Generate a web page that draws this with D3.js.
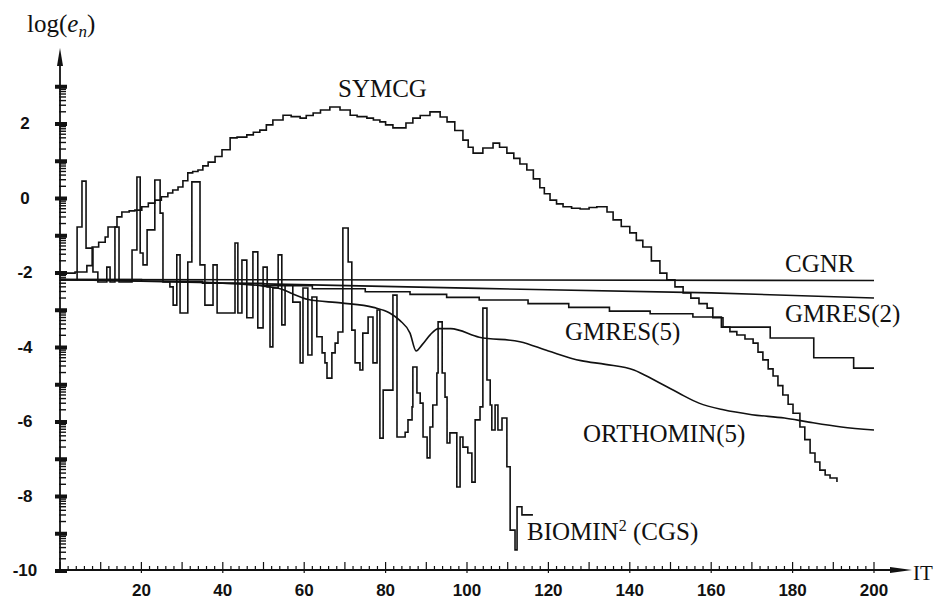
<!DOCTYPE html>
<html>
<head>
<meta charset="utf-8">
<script src="https://cdn.jsdelivr.net/npm/d3@7/dist/d3.min.js"></script>
<style>
body { margin: 0; background: white; }
.kreska { fill: none; stroke: #111; stroke-width: 1.6; }
.os { stroke: #111; stroke-width: 1.8; }
.etykieta { font-family: "Liberation Serif", "DejaVu Serif", serif; font-size: 25px; fill: #111; }
.liczby { font-family: "Liberation Sans", Arial, sans-serif; font-weight: bold; font-size: 17px; fill: #111; }
</style>
</head>
<body>
<div id="rysZbieznosc"></div>
<script>
// iteracje (IT) i log(e_n)
var cgnr = [[0, -2.2], [200, -2.23]];

var gmres2 = [[0, -2.2], [50, -2.32], [103, -2.44], [160, -2.56], [200, -2.7]];

var gmres5 = [[0, -2.2], [20, -2.25], [35, -2.3], [50, -2.37], [62, -2.45], [75, -2.53], [86, -2.6],
  [95, -2.68], [103, -2.75], [115, -2.85], [125, -2.95], [135, -3.05], [145, -3.12], [155.5, -3.21],
  [162.5, -3.48], [174.5, -3.77], [185.2, -4.3], [195, -4.58], [200, -4.58]];

var orthomin5 = [[0, -2.21], [20, -2.24], [40, -2.3], [50, -2.38], [55, -2.48], [57, -2.58], [61, -2.74],
  [69, -2.83], [77, -2.95], [81, -3.1], [83.5, -3.3], [86, -3.64], [87.5, -4.12], [89, -3.95], [91, -3.68],
  [93, -3.52], [96, -3.52], [103, -3.75], [113, -3.87], [120, -4.12], [128, -4.38], [134, -4.48],
  [141, -4.63], [146, -4.9], [152, -5.25], [157, -5.52], [163, -5.7], [170, -5.83], [178, -5.92],
  [184, -6.03], [192, -6.16], [200, -6.24]];

var symcg = [[0, -2.03], [3.7, -2.0], [6.6, -1.83], [7.9, -1.33], [9.5, -1.2], [11.1, -1.06], [11.8, -0.79],
  [14, -0.52], [15.2, -0.39], [17, -0.36], [18.4, -0.34], [20.1, -0.25], [21.7, -0.15], [23.3, -0.07],
  [24.9, 0.02], [26.5, 0.12], [27.7, 0.2], [29, 0.28], [30.2, 0.45], [31.4, 0.66], [32.6, 0.7],
  [33.9, 0.74], [35.1, 0.85], [36.4, 0.95], [38.1, 1.1], [39.8, 1.28], [41.8, 1.6], [43.5, 1.62],
  [45.9, 1.68], [47.5, 1.75], [49.1, 1.81], [50.7, 1.95], [52.3, 2.08], [54.8, 2.21], [56.8, 2.17],
  [59, 2.13], [60.5, 2.2], [62.2, 2.27], [64, 2.35], [66.3, 2.43], [68.8, 2.35], [71.3, 2.21], [73, 2.17],
  [75.4, 2.13], [77, 2.08], [78.6, 2.03], [80, 1.95], [81.8, 1.87], [83.5, 1.87], [85, 2.0], [86.7, 2.13],
  [88.5, 2.2], [90.9, 2.3], [93.4, 2.16], [95.1, 2.03], [97, 1.8], [99, 1.54], [100.3, 1.35], [101.5, 1.19],
  [103.9, 1.33], [106.4, 1.46], [108, 1.35], [109.8, 1.19], [111.5, 1.05], [113, 0.9], [114.7, 0.74],
  [116.3, 0.5], [117.9, 0.26], [119, 0.1], [120.4, -0.07], [122, -0.17], [123.6, -0.25], [125.7, -0.29],
  [127.8, -0.31], [130, -0.27], [131.9, -0.25], [134.4, -0.39], [135.9, -0.6], [137.9, -0.78], [140, -0.95],
  [141.6, -1.15], [143.2, -1.33], [145.3, -1.7], [147.4, -2.03], [149.1, -2.21], [151.1, -2.4],
  [153.1, -2.56], [155, -2.7], [157, -2.85], [159, -2.97], [160.4, -3.23], [162.9, -3.48], [164.6, -3.6],
  [166.3, -3.69], [168.3, -3.8], [170.3, -3.91], [171.5, -4.15], [172.7, -4.36], [174, -4.6], [175.2, -4.79],
  [176.4, -5.05], [177.6, -5.3], [178.9, -5.55], [180.1, -5.79], [181.8, -6.16], [183, -6.5], [184.3, -6.86],
  [185.5, -7.1], [186.7, -7.32], [188, -7.45], [189.2, -7.53], [190.9, -7.64]];

var biomin = [[0, -2.21], [4.2, -0.79], [5.4, 0.44], [6.4, -1.36], [8.1, -2.0], [9.3, -2.27], [11.5, -1.87],
  [12.3, -2.27], [13.5, -0.79], [14.5, -2.27], [17.7, -1.41], [18.9, 0.55], [19.7, -1.49], [20.4, -1.81],
  [21.4, -0.87], [23.3, 0.47], [24.6, -0.42], [25.3, -2.27], [27, -2.4], [27.8, -2.89], [28.7, -1.54],
  [29.5, -3.1], [31.4, -1.73], [32.4, 0.42], [34.4, -1.81], [35.6, -2.89], [37.6, -1.81], [38.6, -3.1],
  [43, -1.22], [43.7, -3.1], [44.7, -1.68], [45.9, -3.23], [47.4, -1.46], [48.6, -3.5], [49.9, -1.87],
  [50.9, -2.4], [51.6, -4.01], [52.3, -2.43], [53.6, -1.54], [54.5, -3.42], [55.3, -2.35], [57.2, -2.81],
  [59, -4.44], [59.7, -2.43], [60.9, -4.23], [61.9, -2.67], [63.1, -3.74], [64.4, -4.17], [65.1, -4.44],
  [65.6, -4.85], [66.8, -4.17], [67.6, -3.91], [68.3, -3.61], [69.5, -0.82], [70.8, -1.73], [71.7, -3.56],
  [72.5, -4.44], [73.7, -4.63], [74.4, -3.64], [75.7, -3.21], [76.9, -4.44], [77.9, -3.02], [78.6, -6.46],
  [79.4, -5.17], [81.8, -2.62], [82.8, -6.43], [84.8, -6.3], [85.5, -5.97], [86.5, -5.62], [86.7, -4.55],
  [87.7, -5.25], [88.5, -5.52], [89.2, -6.43], [90.2, -6.99], [90.9, -6.16], [91.6, -5.57], [92.6, -4.71],
  [92.9, -3.34], [93.9, -4.71], [94.6, -5.36], [95.1, -6.59], [95.8, -6.32], [97.5, -7.77], [98.3, -6.43],
  [99, -6.7], [100.2, -6.86], [101.2, -7.64], [102, -5.97], [103.2, -5.62], [103.9, -2.97], [104.9, -4.9],
  [105.7, -5.57], [106.1, -6.24], [106.9, -5.57], [107.6, -6.24], [108.6, -5.92], [109.8, -7.23],
  [110.6, -8.93], [111.8, -9.46], [112.3, -8.3], [113.5, -8.52], [116.2, -8.52]];

var xTickLabels = [20, 40, 60, 80, 100, 120, 140, 160, 180, 200];
var yTickLabels = [2, 0, -2, -4, -6, -8, -10];

var svg = d3.select("#rysZbieznosc")
  .append("svg")
  .attr("width", 945)
  .attr("height", 601)
  .style("background", "white");

var xscale = d3.scaleLinear().domain([0, 200]).range([60, 874]);
var yscale = d3.scaleLinear().domain([-10, 2]).range([570, 123]);

// os X z podzialka co 2
var xAxis = svg.append("g");
xAxis.append("line").attr("class", "os")
  .attr("x1", 55).attr("x2", 895).attr("y1", yscale(-10)).attr("y2", yscale(-10));
xAxis.append("path")
  .attr("d", "M912," + yscale(-10) + " L890," + (yscale(-10) - 3) + " L890," + (yscale(-10) + 3) + " Z")
  .attr("fill", "#111");
xAxis.selectAll("line.tick")
  .data(d3.range(0, 201, 2))
  .enter().append("line")
  .attr("class", "tick")
  .attr("stroke", "#111")
  .attr("stroke-width", 1.2)
  .attr("x1", d => xscale(d)).attr("x2", d => xscale(d))
  .attr("y1", d => yscale(-10) + (d % 20 == 0 && d > 0 ? 3 : 0))
  .attr("y2", d => yscale(-10) - (d % 10 == 0 ? 8 : 4));
xAxis.selectAll("text")
  .data(xTickLabels)
  .enter().append("text")
  .attr("class", "liczby")
  .attr("x", d => xscale(d))
  .attr("y", 596)
  .attr("text-anchor", "middle")
  .text(d => d);

// os Y - podzialka logarytmiczna w kazdej dekadzie
var yAxis = svg.append("g");
yAxis.append("line").attr("class", "os")
  .attr("x1", 60).attr("x2", 60).attr("y1", yscale(-10) + 1).attr("y2", 64);
yAxis.append("path")
  .attr("d", "M60,48 L57,66 L63,66 Z")
  .attr("fill", "#111");

var yMinor = [];
d3.range(-10, 3).forEach(function (n) {
  d3.range(2, 10).forEach(function (k) { yMinor.push(n + Math.log10(k)); });
});
yAxis.selectAll("line.minor")
  .data(yMinor)
  .enter().append("line")
  .attr("class", "minor")
  .attr("stroke", "#111")
  .attr("stroke-width", 1.4)
  .attr("x1", 59).attr("x2", 66)
  .attr("y1", d => yscale(d)).attr("y2", d => yscale(d));
yAxis.selectAll("line.major")
  .data(d3.range(-10, 4))
  .enter().append("line")
  .attr("class", "major")
  .attr("stroke", "#111")
  .attr("stroke-width", 4)
  .attr("x1", 55).attr("x2", 67)
  .attr("y1", d => yscale(d) + 1).attr("y2", d => yscale(d) + 1);
yAxis.selectAll("text")
  .data(yTickLabels)
  .enter().append("text")
  .attr("class", "liczby")
  .attr("x", 25)
  .attr("y", d => yscale(d) + 6)
  .attr("text-anchor", "middle")
  .text(d => d);

// krzywe
function rysuj(dane, krzywa) {
  svg.append("path")
    .datum(dane)
    .attr("class", "kreska")
    .attr("d", d3.line()
      .x(function (d) { return xscale(d[0]) })
      .y(function (d) { return yscale(d[1]) })
      .curve(krzywa));
}
rysuj(cgnr, d3.curveLinear);
rysuj(gmres2, d3.curveLinear);
rysuj(gmres5, d3.curveStepAfter);
rysuj(orthomin5, d3.curveMonotoneX);
rysuj(symcg, d3.curveStepAfter);
rysuj(biomin, d3.curveStepAfter);

// podpisy
function podpis(x, y, tekst) {
  return svg.append("text").attr("class", "etykieta").attr("x", x).attr("y", y).text(tekst);
}
podpis(338, 97, "SYMCG");
podpis(785, 272, "CGNR");
podpis(785, 322, "GMRES(2)");
podpis(565, 340, "GMRES(5)");
podpis(583, 442, "ORTHOMIN(5)");
var bio = podpis(527, 540, "BIOMIN");
bio.append("tspan").attr("dy", -9).attr("font-size", 16).text("2");
bio.append("tspan").attr("dy", 9).text(" (CGS)");
podpis(913, 580, "IT").style("font-size", "21px");

var tytul = podpis(27, 32, "log(");
tytul.append("tspan").style("font-style", "italic").text("e");
tytul.append("tspan").style("font-style", "italic").attr("font-size", 17).attr("dy", 5).text("n");
tytul.append("tspan").attr("dy", -5).text(")");
</script>
</body>
</html>
